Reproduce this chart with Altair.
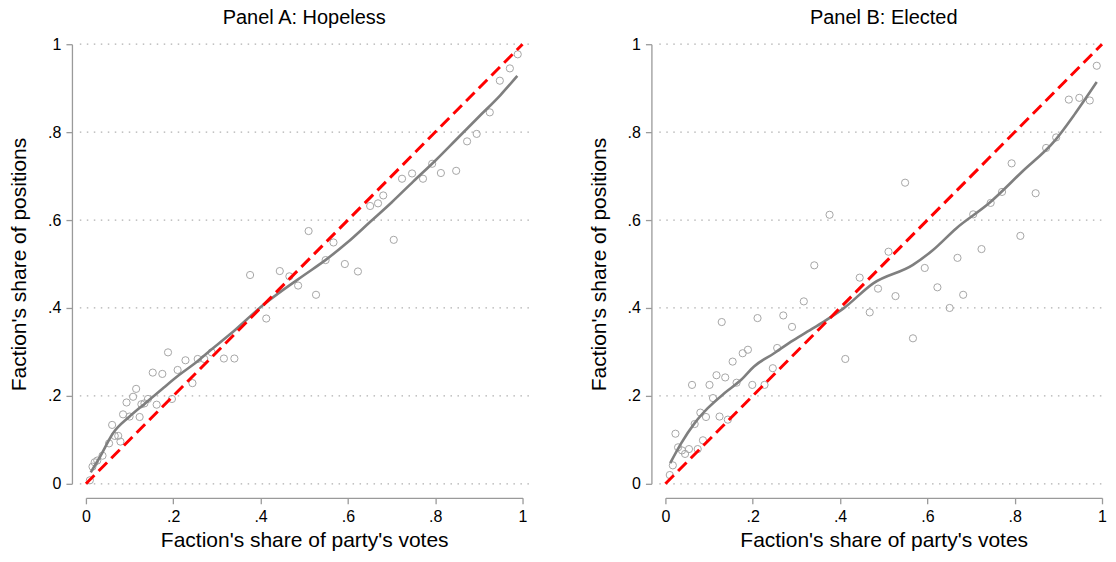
import altair as alt
import pandas as pd

TICKS = [0, 0.2, 0.4, 0.6, 0.8, 1.0]

# Panel A: Hopeless -- scatter of binned means
A_x = [0.009, 0.015, 0.020, 0.026, 0.038, 0.053, 0.060, 0.066, 0.074, 0.079,
       0.085, 0.093, 0.100, 0.108, 0.115, 0.123, 0.127, 0.134, 0.142, 0.153,
       0.162, 0.175, 0.188, 0.197, 0.210, 0.228, 0.244, 0.256, 0.271, 0.288,
       0.316, 0.340, 0.376, 0.413, 0.444, 0.466, 0.486, 0.510, 0.527, 0.549,
       0.567, 0.593, 0.623, 0.651, 0.669, 0.681, 0.705, 0.724, 0.747, 0.772,
       0.793, 0.813, 0.848, 0.873, 0.895, 0.925, 0.948, 0.971, 0.989]
A_y = [0.008, 0.039, 0.049, 0.053, 0.064, 0.092, 0.134, 0.109, 0.109, 0.096,
       0.158, 0.185, 0.153, 0.198, 0.216, 0.152, 0.181, 0.183, 0.193, 0.253,
       0.180, 0.250, 0.299, 0.193, 0.259, 0.281, 0.229, 0.284, 0.284, 0.299,
       0.285, 0.285, 0.475, 0.376, 0.484, 0.472, 0.451, 0.575, 0.430, 0.509,
       0.549, 0.500, 0.483, 0.632, 0.638, 0.656, 0.555, 0.694, 0.706, 0.694,
       0.728, 0.707, 0.712, 0.779, 0.796, 0.845, 0.917, 0.945, 0.977]
# Panel A: smoothed fit
A_fx = [0.011, 0.032, 0.062, 0.100, 0.138, 0.176, 0.214, 0.252, 0.282, 0.33,
        0.41, 0.45, 0.50, 0.55, 0.60, 0.65, 0.70, 0.75, 0.80, 0.85, 0.90, 0.95, 0.988]
A_fy = [0.026, 0.061, 0.115, 0.153, 0.185, 0.217, 0.248, 0.276, 0.301, 0.34,
        0.41, 0.44, 0.475, 0.51, 0.55, 0.595, 0.64, 0.688, 0.735, 0.785, 0.835, 0.885, 0.928]

# Panel B: Elected -- scatter of binned means
B_x = [0.010, 0.017, 0.023, 0.029, 0.038, 0.045, 0.054, 0.061, 0.067, 0.074,
       0.080, 0.086, 0.093, 0.101, 0.109, 0.117, 0.124, 0.129, 0.137, 0.143,
       0.154, 0.163, 0.177, 0.189, 0.199, 0.211, 0.227, 0.246, 0.256, 0.270,
       0.290, 0.317, 0.341, 0.376, 0.412, 0.445, 0.468, 0.487, 0.511, 0.527,
       0.549, 0.567, 0.594, 0.623, 0.651, 0.669, 0.682, 0.705, 0.724, 0.745,
       0.771, 0.793, 0.813, 0.848, 0.872, 0.895, 0.924, 0.948, 0.972, 0.988]
B_y = [0.020, 0.042, 0.114, 0.083, 0.076, 0.068, 0.079, 0.225, 0.136, 0.079,
       0.162, 0.099, 0.152, 0.225, 0.195, 0.247, 0.153, 0.368, 0.242, 0.146,
       0.278, 0.230, 0.297, 0.305, 0.225, 0.377, 0.225, 0.263, 0.309, 0.383,
       0.357, 0.415, 0.497, 0.612, 0.284, 0.469, 0.390, 0.444, 0.528, 0.427,
       0.685, 0.331, 0.491, 0.447, 0.400, 0.514, 0.430, 0.613, 0.534, 0.639,
       0.664, 0.729, 0.564, 0.661, 0.764, 0.788, 0.874, 0.878, 0.872, 0.951]
# Panel B: smoothed fit
B_fx = [0.011, 0.036, 0.067, 0.097, 0.135, 0.173, 0.203, 0.249, 0.287, 0.325,
        0.363, 0.408, 0.476, 0.567, 0.613, 0.666, 0.741, 0.817, 0.893, 0.939, 0.988]
B_fy = [0.047, 0.092, 0.138, 0.172, 0.206, 0.236, 0.267, 0.297, 0.323, 0.346,
        0.369, 0.399, 0.456, 0.498, 0.532, 0.581, 0.638, 0.710, 0.782, 0.843, 0.914]

GRID_FROM = -0.014
GRID_TO_A = 1.02
GRID_TO_B = 1.0

FONT = "Liberation Sans"
AXIS_GRAY = "#9a9a9a"
LABEL_EXPR = ("datum.value == 0 ? '0' : (datum.value == 1 ? '1' : "
              "'.' + format(datum.value * 10, '.0f'))")


def panel(title, sx, sy, fx, fy, grid_to):
    pts = pd.DataFrame({"x": sx, "y": sy})
    fit = pd.DataFrame({"x": fx, "y": fy})
    diag = pd.DataFrame({"x": [0.0, 1.0], "y": [0.0, 1.0]})
    grid = pd.DataFrame({"y": TICKS,
                         "x": [GRID_FROM] * len(TICKS),
                         "x2": [grid_to] * len(TICKS)})

    xs = alt.Scale(domain=[0, 1], nice=False, zero=False)
    ys = alt.Scale(domain=[0, 1], nice=False, zero=False)
    common = dict(values=TICKS, labelExpr=LABEL_EXPR, offset=14, tickSize=6,
                  labelPadding=5, grid=False, labelFont=FONT, titleFont=FONT,
                  labelFontSize=16, titleFontSize=21, titleFontWeight="normal",
                  labelColor="#000000", titleColor="#000000",
                  domainColor=AXIS_GRAY, tickColor=AXIS_GRAY,
                  domainWidth=1.3, tickWidth=1.3, labelFlush=False)
    xaxis = alt.Axis(titlePadding=4.5, title="Faction's share of party's votes",
                     **common)
    yaxis = alt.Axis(titlePadding=18, title="Faction's share of positions",
                     **common)
    X = alt.X("x:Q", scale=xs, axis=xaxis)
    Y = alt.Y("y:Q", scale=ys, axis=yaxis)

    g = alt.Chart(grid).mark_rule(color="#b0b0b0", strokeWidth=1.2,
                                  strokeDash=[1.5, 5.5]).encode(x=X, x2="x2:Q", y=Y)
    p = alt.Chart(pts).mark_point(shape="circle", filled=False, size=52,
                                  color="#a6a6a6", strokeWidth=1,
                                  opacity=1).encode(x=X, y=Y)
    f = alt.Chart(fit).mark_line(color="#7f7f7f", strokeWidth=2.6,
                                 interpolate="monotone").encode(x=X, y=Y)
    d = alt.Chart(diag).mark_line(color="#ff0000", strokeWidth=3,
                                  strokeDash=[12, 6]).encode(x=X, y=Y)
    return alt.layer(g, p, f, d).properties(
        width=437, height=440,
        title=alt.TitleParams(text=title, fontSize=20, font=FONT,
                              fontWeight="normal", color="#000000",
                              anchor="middle", frame="group", offset=8),
    )


chart = alt.hconcat(
    panel("Panel A: Hopeless", A_x, A_y, A_fx, A_fy, GRID_TO_A),
    panel("Panel B: Elected", B_x, B_y, B_fx, B_fy, GRID_TO_B),
    spacing=55,
).properties(padding=0, background="white").configure_view(stroke=None)

chart.save("out.html", embed_options={"renderer": "svg", "actions": False})
